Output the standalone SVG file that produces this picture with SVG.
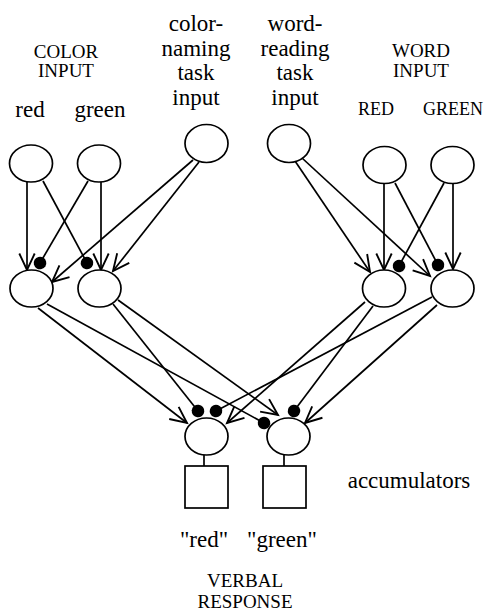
<svg xmlns="http://www.w3.org/2000/svg" width="485" height="613" viewBox="0 0 485 613">
<defs>
<style>
.n{fill:#fff;stroke:#000;stroke-width:1.7}
.c{stroke:#000;stroke-width:1.7;fill:none}
.ex{marker-end:url(#arr)}
.in{marker-end:url(#dot)}
text{font-family:"Liberation Serif","Times New Roman",serif;fill:#000;text-anchor:middle}
.lc{font-size:23px}
.uc{font-size:19px}
.uc2{font-size:18px}
</style>
<marker id="arr" markerUnits="userSpaceOnUse" markerWidth="22" markerHeight="22" viewBox="-18 -10 20 20" refX="0" refY="0" orient="auto">
<path d="M-15,-7 L0,0 L-15,7" fill="none" stroke="#000" stroke-width="1.7"/>
</marker>
<marker id="dot" markerUnits="userSpaceOnUse" markerWidth="16" markerHeight="16" viewBox="-8 -8 16 16" refX="0" refY="0" orient="auto">
<circle cx="0" cy="0" r="6.3" fill="#000"/>
</marker>
</defs>
<rect width="485" height="613" fill="#fff"/>

<g id="labels">
<text class="uc" x="66" y="58">COLOR</text>
<text class="uc" x="66" y="77">INPUT</text>
<text class="lc" x="30" y="117">red</text>
<text class="lc" x="100" y="117">green</text>
<text class="lc" x="196" y="31">color-</text>
<text class="lc" x="196" y="55.5">naming</text>
<text class="lc" x="196" y="80">task</text>
<text class="lc" x="196" y="104.5">input</text>
<text class="lc" x="295" y="31">word-</text>
<text class="lc" x="295" y="55.5">reading</text>
<text class="lc" x="295" y="80">task</text>
<text class="lc" x="295" y="104.5">input</text>
<text class="uc" x="421" y="57">WORD</text>
<text class="uc" x="421" y="77">INPUT</text>
<text class="uc2" x="376" y="115">RED</text>
<text class="uc2" x="453" y="115">GREEN</text>
<text class="lc" x="409" y="488">accumulators</text>
<text class="lc" x="204" y="547">"red"</text>
<text class="lc" x="282" y="547">"green"</text>
<text class="uc" x="245" y="587">VERBAL</text>
<text class="uc" x="245" y="608">RESPONSE</text>
</g>

<g id="connectors">
<line class="c ex" x1="27" y1="182" x2="27" y2="270"/>
<line class="c in" x1="43" y1="181" x2="87" y2="263"/>
<line class="c in" x1="88" y1="181" x2="40" y2="263"/>
<line class="c ex" x1="101" y1="182" x2="101" y2="270"/>
<line class="c ex" x1="193" y1="160" x2="52" y2="282"/>
<line class="c ex" x1="199" y1="162" x2="113" y2="271"/>
<line class="c ex" x1="295" y1="161" x2="370" y2="272"/>
<line class="c ex" x1="302" y1="158" x2="430" y2="276"/>
<line class="c ex" x1="384" y1="183" x2="384" y2="270"/>
<line class="c in" x1="395" y1="183" x2="438" y2="265"/>
<line class="c in" x1="444" y1="183" x2="399" y2="266"/>
<line class="c ex" x1="453" y1="183" x2="453" y2="269"/>

<line class="c ex" x1="38" y1="308" x2="187" y2="423"/>
<line class="c in" x1="47" y1="304" x2="264" y2="423"/>
<line class="c in" x1="113" y1="304" x2="198" y2="411"/>
<line class="c ex" x1="118" y1="300" x2="278" y2="415"/>
<line class="c ex" x1="365" y1="302" x2="227" y2="423"/>
<line class="c in" x1="373" y1="306" x2="294" y2="411"/>
<line class="c in" x1="432" y1="297" x2="216" y2="411"/>
<line class="c ex" x1="437" y1="305" x2="305" y2="423"/>

<line class="c" x1="204" y1="455" x2="204" y2="466"/>
<line class="c" x1="284" y1="455" x2="284" y2="466"/>
</g>

<g id="in-color-red"><ellipse class="n" cx="31" cy="163.5" rx="21.5" ry="18.5"/></g>
<g id="in-color-green"><ellipse class="n" cx="99" cy="163.5" rx="21.5" ry="18.5"/></g>
<g id="task-color"><ellipse class="n" cx="206.5" cy="143.5" rx="21.5" ry="19"/></g>
<g id="task-word"><ellipse class="n" cx="289" cy="143.5" rx="21.5" ry="19"/></g>
<g id="in-word-red"><ellipse class="n" cx="384.5" cy="165" rx="21.5" ry="18.5"/></g>
<g id="in-word-green"><ellipse class="n" cx="452.5" cy="165" rx="21.5" ry="18.5"/></g>

<g id="hid-color-red"><ellipse class="n" cx="31.5" cy="288.5" rx="21.5" ry="18.5"/></g>
<g id="hid-color-green"><ellipse class="n" cx="99.5" cy="288.5" rx="21.5" ry="18.5"/></g>
<g id="hid-word-red"><ellipse class="n" cx="384" cy="288.5" rx="21.5" ry="18.5"/></g>
<g id="hid-word-green"><ellipse class="n" cx="452.5" cy="288.5" rx="21.5" ry="18.5"/></g>

<g id="out-red"><ellipse class="n" cx="206.5" cy="436.5" rx="21.5" ry="18.5"/></g>
<g id="out-green"><ellipse class="n" cx="288.5" cy="436.5" rx="21.5" ry="18.5"/></g>

<g id="acc-red"><rect class="n" x="185" y="466" width="43" height="42"/></g>
<g id="acc-green"><rect class="n" x="263" y="466" width="43" height="42"/></g>
</svg>
